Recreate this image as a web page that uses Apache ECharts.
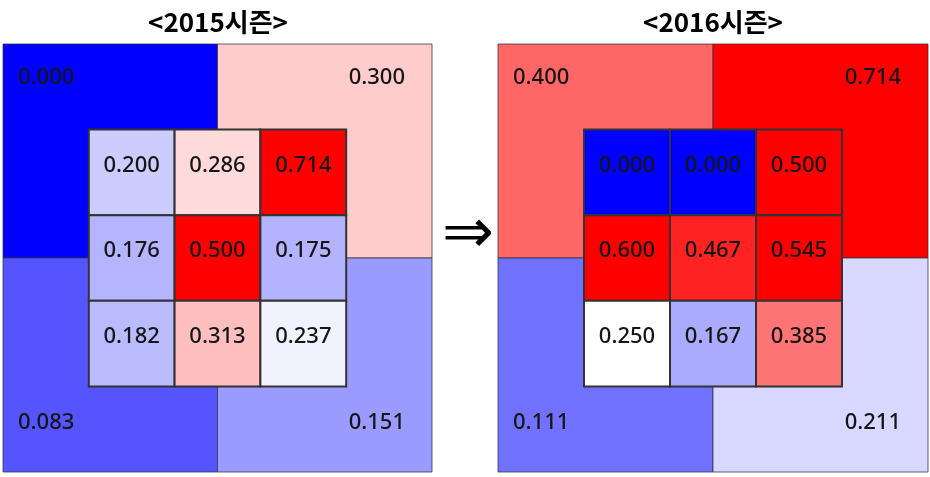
<!DOCTYPE html>
<html>
<head>
<meta charset="utf-8">
<script src="https://cdn.jsdelivr.net/npm/echarts@6/dist/echarts.min.js"></script>
<style>html,body{margin:0;padding:0;background:#fff;}#c{width:930px;height:477px;}</style>
</head>
<body>
<div id="c"></div>
<script>
// Titles
const titles = ['<2015시즌>', '<2016시즌>'];
// Outer quadrant values: top-left, top-right, bottom-left, bottom-right
const quad2015 = [0.000, 0.300, 0.083, 0.151];
const quad2016 = [0.400, 0.714, 0.111, 0.211];
// Inner 3x3 zone values (rows top to bottom, columns left to right)
const zone2015 = [
  [0.200, 0.286, 0.714],
  [0.176, 0.500, 0.175],
  [0.182, 0.313, 0.237]
];
const zone2016 = [
  [0.000, 0.000, 0.500],
  [0.600, 0.467, 0.545],
  [0.250, 0.167, 0.385]
];

function quadData(q) {
  return q.map(function (v, i) {
    const cx = i % 2, cy = Math.floor(i / 2);
    return [cx * 2.5, cx * 2.5 + 2.5, cy * 2.5, cy * 2.5 + 2.5, v, i];
  });
}
function zoneData(z) {
  const out = [];
  z.forEach(function (row, r) {
    row.forEach(function (v, c) {
      out.push([1 + c, 2 + c, 1 + r, 2 + r, v, -1]);
    });
  });
  return out;
}

const FONT_NUM = '500 22px "Noto Sans", "DejaVu Sans", sans-serif';

function renderQuad(params, api) {
  const p0 = api.coord([api.value(0), api.value(2)]);
  const p1 = api.coord([api.value(1), api.value(3)]);
  const kind = api.value(5);
  const x0 = Math.min(p0[0], p1[0]), x1 = Math.max(p0[0], p1[0]);
  const y0 = Math.min(p0[1], p1[1]), y1 = Math.max(p0[1], p1[1]);
  const left = (kind % 2 === 0);
  const top = kind < 2;
  const tx = left ? x0 + 15 : x1 - 27;
  const ty = top ? y0 + 34 : y1 - 49;
  return {
    type: 'group',
    children: [
      { type: 'rect', shape: { x: x0, y: y0, width: x1 - x0, height: y1 - y0 },
        style: { fill: api.visual('color'), stroke: 'rgba(50,50,60,0.75)', lineWidth: 1 } },
      { type: 'text', z2: 10,
        style: { text: api.value(4).toFixed(3), x: tx, y: ty, align: left ? 'left' : 'right',
          verticalAlign: 'middle', font: FONT_NUM, fill: '#151515' } }
    ]
  };
}
function renderZone(params, api) {
  const p0 = api.coord([api.value(0), api.value(2)]);
  const p1 = api.coord([api.value(1), api.value(3)]);
  const x0 = Math.min(p0[0], p1[0]), x1 = Math.max(p0[0], p1[0]);
  const y0 = Math.min(p0[1], p1[1]), y1 = Math.max(p0[1], p1[1]);
  return {
    type: 'group',
    children: [
      { type: 'rect', shape: { x: x0, y: y0, width: x1 - x0, height: y1 - y0 },
        style: { fill: api.visual('color'), stroke: '#333', lineWidth: 2 } },
      { type: 'text', z2: 10,
        style: { text: api.value(4).toFixed(3), x: (x0 + x1) / 2, y: (y0 + y1) / 2 - 7, align: 'center',
          verticalAlign: 'middle', font: FONT_NUM, fill: '#151515' } }
    ]
  };
}

const grids = [
  { left: 3, top: 44, width: 429, height: 428 },
  { left: 498, top: 44, width: 430, height: 428 }
];
const axisHidden = { type: 'value', min: 0, max: 5, show: false };

const chart = echarts.init(document.getElementById('c'), null, { renderer: 'canvas' });
chart.setOption({
  animation: false,
  backgroundColor: '#fff',
  grid: grids,
  xAxis: [Object.assign({ gridIndex: 0 }, axisHidden), Object.assign({ gridIndex: 1 }, axisHidden)],
  yAxis: [Object.assign({ gridIndex: 0, inverse: true }, axisHidden), Object.assign({ gridIndex: 1, inverse: true }, axisHidden)],
  visualMap: {
    type: 'continuous', show: false, min: 0, max: 0.5, dimension: 4,
    seriesIndex: [0, 1, 2, 3],
    inRange: { color: ['#0000ff', '#ffffff', '#ff0000'] }
  },
  series: [
    { type: 'custom', xAxisIndex: 0, yAxisIndex: 0, renderItem: renderQuad, data: quadData(quad2015), z: 1 },
    { type: 'custom', xAxisIndex: 0, yAxisIndex: 0, renderItem: renderZone, data: zoneData(zone2015), z: 2 },
    { type: 'custom', xAxisIndex: 1, yAxisIndex: 1, renderItem: renderQuad, data: quadData(quad2016), z: 1 },
    { type: 'custom', xAxisIndex: 1, yAxisIndex: 1, renderItem: renderZone, data: zoneData(zone2016), z: 2 }
  ],
  graphic: [
    { type: 'text', x: 218, y: 22, style: { text: titles[0], align: 'center', verticalAlign: 'middle',
      font: 'bold 26px "Noto Sans CJK KR", sans-serif', fill: '#000' } },
    { type: 'text', x: 713, y: 22, style: { text: titles[1], align: 'center', verticalAlign: 'middle',
      font: 'bold 26px "Noto Sans CJK KR", sans-serif', fill: '#000' } },
    { type: 'text', x: 468, y: 236, style: { text: '⇒', align: 'center', verticalAlign: 'middle',
      font: '62px "DejaVu Sans", sans-serif', fill: '#000' } }
  ]
});
</script>
</body>
</html>
